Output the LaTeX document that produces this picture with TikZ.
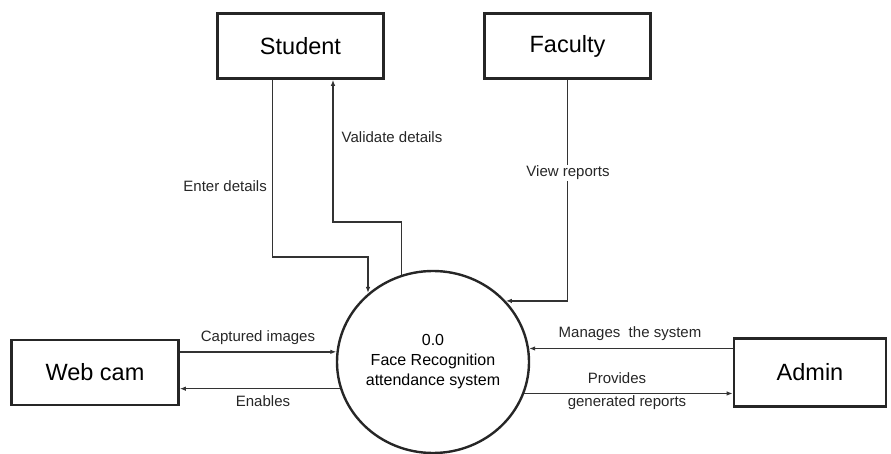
\documentclass[tikz,border=0pt]{standalone}
\usepackage{fontspec}
\setmainfont{Liberation Sans}
\usetikzlibrary{arrows.meta,shapes.geometric}
\begin{document}
\begin{tikzpicture}[x=1pt,y=-1pt,
  entity/.style={draw=black!85, line width=2.6pt, minimum height=65pt, inner sep=0pt, font=\fontsize{23.5}{26}\selectfont},
  proc/.style={draw=black!85, ellipse, line width=2.4pt, minimum width=192pt, minimum height=182pt, inner sep=0pt, align=center, font=\fontsize{16}{20}\selectfont},
  flow/.style={draw=black!80, line width=1.3pt, -{Latex[length=6pt,width=4.5pt]}},
  lbl/.style={font=\fontsize{15}{17}\selectfont, inner sep=1pt, text=black!85}]
\useasboundingbox (0,0) rectangle (891,454);
\node[entity, minimum width=166pt] (student) at (300.5,46) {Student};
\node[entity, minimum width=166pt] (faculty) at (567.5,46) {Faculty};
\node[entity, minimum width=167pt] (webcam) at (95,372.5) {Web cam};
\node[entity, minimum width=152pt, minimum height=68pt] (admin) at (810,372.5) {Admin};
\node[proc] (fr) at (433,362) {0.0\\Face Recognition\\attendance system};
% Student <-> system
\coordinate (e1) at (368,257);
\draw[flow] ([xshift=-28pt]student.south) |- (e1) -- (e1 |- fr.133.6);
\coordinate (v1) at (333,222);
\draw[flow] (fr.110.2) |- (v1) -- (v1 |- student.south);
% Faculty -> system
\draw[flow] (faculty.south) |- (fr.40.8);
% Web cam <-> system
\draw[flow] (webcam.east |- fr.174.1) -- (fr.174.1);
\draw[flow] (fr.196.9) -- (fr.196.9 -| webcam.east);
% Admin <-> system
\draw[flow] (admin.west |- fr.8.3) -- (fr.8.3);
\draw[flow] (fr.341.9) -- (fr.341.9 -| admin.west);
% labels
\node[lbl, anchor=east] (l1) at (268,186) {Enter details};
\node[lbl] (l2) at (392,137) {Validate details};
\node[lbl, fill=white] (l3) at (568,173) {View reports};
\node[lbl] (l4) at (258,338) {Captured images};
\node[lbl] (l5) at (263,401) {Enables};
\node[lbl] (l6) at (630,334) {Manages\ \ the system};
\node[lbl] (l7) at (617,378) {Provides};
\node[lbl] (l8) at (627,403) {generated reports};
\end{tikzpicture}
\end{document}
